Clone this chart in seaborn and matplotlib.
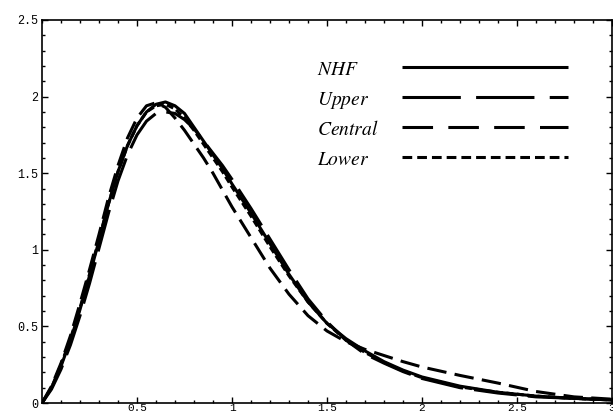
import numpy as np
import pandas as pd
import seaborn as sns
import matplotlib.pyplot as plt
from matplotlib.ticker import MultipleLocator, FixedLocator

#x grid the curves were read on
x_vals = [0, 0.05, 0.1, 0.15, 0.2, 0.25, 0.3, 0.35, 0.4, 0.45, 0.5, 0.55, 0.6, 0.65,
          0.7, 0.75, 0.8, 0.85, 0.9, 0.95, 1.0, 1.1, 1.2, 1.3, 1.4, 1.5, 1.6, 1.7,
          1.8, 1.9, 2.0, 2.2, 2.4, 2.6, 2.8, 3.0]

nhf = [0, 0.10, 0.24, 0.41, 0.61, 0.83, 1.06, 1.30, 1.51, 1.68, 1.81, 1.90, 1.95, 1.965,
       1.94, 1.89, 1.80, 1.71, 1.62, 1.53, 1.43, 1.24, 1.04, 0.84, 0.66, 0.52, 0.42, 0.34,
       0.27, 0.215, 0.17, 0.11, 0.07, 0.045, 0.03, 0.02]

upper = [0, 0.09, 0.22, 0.38, 0.57, 0.78, 1.01, 1.24, 1.45, 1.62, 1.75, 1.84, 1.89, 1.90,
         1.89, 1.85, 1.79, 1.71, 1.63, 1.55, 1.46, 1.27, 1.07, 0.87, 0.68, 0.53, 0.41, 0.32,
         0.26, 0.205, 0.16, 0.10, 0.065, 0.04, 0.03, 0.02]

central = [0, 0.11, 0.26, 0.44, 0.65, 0.87, 1.10, 1.34, 1.55, 1.73, 1.86, 1.94, 1.96, 1.93,
           1.86, 1.78, 1.69, 1.60, 1.50, 1.39, 1.28, 1.08, 0.88, 0.71, 0.57, 0.47, 0.40, 0.35,
           0.31, 0.27, 0.235, 0.18, 0.13, 0.075, 0.04, 0.025]

lower = [0, 0.10, 0.25, 0.42, 0.62, 0.84, 1.07, 1.30, 1.51, 1.68, 1.81, 1.90, 1.94, 1.95,
         1.92, 1.86, 1.78, 1.69, 1.60, 1.51, 1.41, 1.22, 1.02, 0.83, 0.66, 0.52, 0.41, 0.33,
         0.265, 0.21, 0.165, 0.105, 0.07, 0.045, 0.03, 0.02]

names = ['NHF', 'Upper', 'Central', 'Lower']
labels = [r'$NHF$', r'$Upper$', r'$Central$', r'$Lower$']

x_ticks = [0.5, 1, 1.5, 2, 2.5, 3]
x_ticklabels = ['0.5', '1', '1.5', '2', '2.5', '3']
y_ticks = [0, 0.5, 1, 1.5, 2, 2.5]
y_ticklabels = ['0', '0.5', '1', '1.5', '2', '2.5']

#build one long table for seaborn
df = pd.concat([pd.DataFrame({'x': x_vals, 'y': s, 'curve': n})
                for n, s in zip(names, [nhf, upper, central, lower])])

sns.set_theme(style='ticks')
plt.rcParams['lines.scale_dashes'] = False
plt.rcParams['mathtext.fontset'] = 'stix'

#dash patterns (points) on the curves and in the key
curve_dashes = {'NHF': '', 'Upper': (31, 8), 'Central': (14, 6), 'Lower': (5, 2.5)}
key_dashes = {'NHF': '', 'Upper': (42, 11), 'Central': (22, 11), 'Lower': (7, 3.6)}

fig = plt.figure(figsize=(6.13, 4.15), dpi=100)
ax = fig.add_axes([42/613, 12/415, 570/613, 383/415])

sns.lineplot(data=df, x='x', y='y', style='curve', dashes=curve_dashes,
             color='black', lw=2.2, legend=False, ax=ax, estimator=None)

ax.set_xlim(0, 3)
ax.set_ylim(0, 2.5)
ax.set_xlabel('')
ax.set_ylabel('')

ax.xaxis.set_major_locator(FixedLocator(x_ticks))
ax.xaxis.set_minor_locator(MultipleLocator(0.1))
ax.yaxis.set_major_locator(FixedLocator(y_ticks))
ax.yaxis.set_minor_locator(MultipleLocator(0.1))
ax.set_xticklabels(x_ticklabels)
ax.set_yticklabels(y_ticklabels)

ax.tick_params(which='both', direction='in', top=True, right=True, color='black',
               width=1.0)
ax.tick_params(which='major', length=4, pad=3, labelsize=8.5, labelcolor='black')
ax.tick_params(axis='x', which='major', pad=0.3, labelsize=8)
ax.tick_params(which='minor', length=2.2)
for lab in ax.get_xticklabels() + ax.get_yticklabels():
    lab.set_family('Liberation Mono')

for sp in ax.spines.values():
    sp.set_visible(True)
    sp.set_linewidth(1.2)
    sp.set_color('black')

#hand-made key: labels left-aligned, samples to the right
key_rows = [0.877, 0.799, 0.721, 0.642]
for n, lab, yk in zip(names, labels, key_rows):
    ax.text(0.482, yk - 0.021, lab, transform=ax.transAxes, fontsize=14,
            ha='left', va='baseline', color='black')
    ax.plot([0.632, 0.923], [yk, yk], transform=ax.transAxes, color='black',
            lw=2.2, dashes=key_dashes[n], solid_capstyle='butt', dash_capstyle='butt')

fig.savefig('out.png', dpi=100)
